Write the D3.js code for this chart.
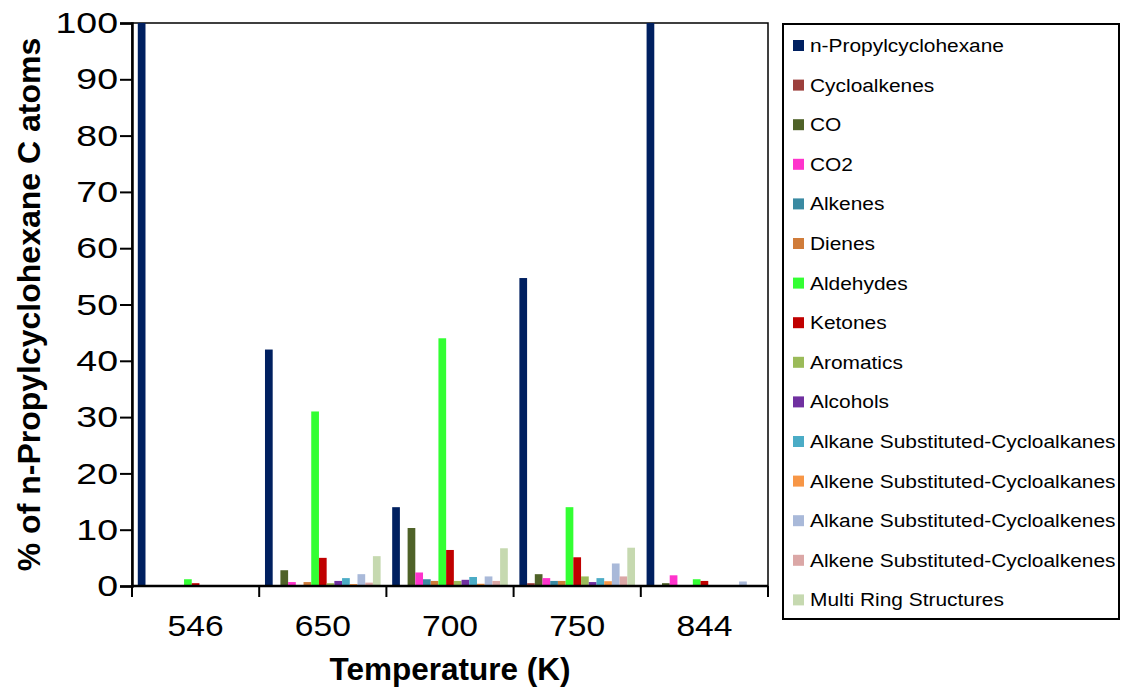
<!DOCTYPE html>
<html>
<head>
<meta charset="utf-8">
<script src="https://cdn.jsdelivr.net/npm/d3@7"></script>
<style>
  body { margin: 0; background: #fff; }
  svg { font-family: "Liberation Sans", Arial, sans-serif; }
</style>
</head>
<body>
<div id="chart"></div>
<script>
// temperatures (x categories)
var temps = ["546", "650", "700", "750", "844"];

var seriesNames = [
    "n-Propylcyclohexane", "Cycloalkenes", "CO", "CO2", "Alkenes", "Dienes",
    "Aldehydes", "Ketones", "Aromatics", "Alcohols",
    "Alkane Substituted-Cycloalkanes", "Alkene Substituted-Cycloalkanes",
    "Alkane Substituted-Cycloalkenes", "Alkene Substituted-Cycloalkenes",
    "Multi Ring Structures"
];

var seriesColors = [
    "#002060", "#9c3f3c", "#4f6228", "#ff33cc", "#3a8aa2", "#d07c3a",
    "#33ff33", "#c00000", "#9bbb59", "#7030a0",
    "#4bacc6", "#f79646", "#a9b9d9", "#dba7a6", "#c6d9b0"
];

// values per series, one per temperature
var nPropylcyclohexane = [100, 42, 14, 54.7, 100];
var cycloalkenes = [0, 0.1, 0.1, 0.5, 0];
var co = [0, 2.8, 10.3, 2.1, 0.5];
var co2 = [0, 0.7, 2.4, 1.4, 1.9];
var alkenes = [0, 0.1, 1.2, 0.9, 0];
var dienes = [0, 0.7, 0.9, 0.9, 0];
var aldehydes = [1.2, 31, 44, 14, 1.2];
var ketones = [0.5, 5.0, 6.4, 5.1, 0.9];
var aromatics = [0, 0.5, 0.9, 1.7, 0];
var alcohols = [0, 0.9, 1.1, 0.7, 0];
var alkSubCycloalkanes = [0, 1.4, 1.6, 1.4, 0];
var alkeSubCycloalkanes = [0, 0.35, 0.4, 0.85, 0];
var alkSubCycloalkenes = [0, 2.1, 1.7, 4.0, 0.8];
var alkeSubCycloalkenes = [0, 0.6, 0.9, 1.7, 0];
var multiRing = [0, 5.3, 6.7, 6.8, 0];

var yTicks = [0, 10, 20, 30, 40, 50, 60, 70, 80, 90, 100];

var seriesValues = [
    nPropylcyclohexane, cycloalkenes, co, co2, alkenes, dienes,
    aldehydes, ketones, aromatics, alcohols,
    alkSubCycloalkanes, alkeSubCycloalkanes, alkSubCycloalkenes,
    alkeSubCycloalkenes, multiRing
];

var W = 1122, H = 687;
var margin = { left: 132, top: 23, right: 354, bottom: 101 };
var width = W - margin.left - margin.right;
var height = H - margin.top - margin.bottom;

var svg = d3.select("#chart").append("svg")
    .attr("width", W)
    .attr("height", H);

var g = svg.append("g")
    .attr("transform", "translate(" + margin.left + "," + margin.top + ")");

var x = d3.scaleBand().domain(temps).range([0, width]).paddingInner(0).paddingOuter(0);

// gap of 150% of a bar width, split on both sides
var barW = x.bandwidth() / (seriesNames.length + 1.5);
var xs = d3.scaleBand().domain(d3.range(seriesNames.length))
    .range([barW * 0.75, x.bandwidth() - barW * 0.75]).padding(0);

var y = d3.scaleLinear().domain([0, 100]).range([height, 0]);

// plot area frame (thin)
g.append("rect")
    .attr("x", 0).attr("y", 0)
    .attr("width", width).attr("height", height)
    .attr("fill", "none")
    .attr("stroke", "#000")
    .attr("stroke-width", 1.5);

// bars
var flat = [];
temps.forEach(function (t, i) {
    seriesValues.forEach(function (vals, s) {
        flat.push({ temp: t, s: s, v: vals[i] });
    });
});

g.selectAll(".bar")
    .data(flat)
    .enter().append("rect")
    .attr("class", "bar")
    .attr("x", function (d) { return x(d.temp) + xs(d.s); })
    .attr("width", xs.bandwidth())
    .attr("y", function (d) { return y(d.v); })
    .attr("height", function (d) { return height - y(d.v); })
    .attr("fill", function (d) { return seriesColors[d.s]; });

// y axis (labels are a bit wide in the original, so stretch them)
var yStretch = 1.25;
var yAxis = d3.axisLeft(y).tickValues(yTicks).tickSize(12);
var yg = g.append("g").call(yAxis);
yg.attr("font-size", null).attr("font-family", null);
yg.select(".domain").attr("stroke-width", 2.5);
yg.selectAll(".tick line").attr("stroke-width", 2);
yg.selectAll(".tick text")
    .attr("x", -14 / yStretch)
    .attr("transform", "scale(" + yStretch + ",1)")
    .attr("font-size", 30)
    .attr("fill", "#000");

// x axis: ticks on category boundaries
var xg = g.append("g").attr("transform", "translate(0," + height + ")");
xg.append("line")
    .attr("x1", 0).attr("x2", width)
    .attr("stroke", "#000").attr("stroke-width", 2.5);
xg.selectAll(".xtick")
    .data(temps.concat(["end"]))
    .enter().append("line")
    .attr("class", "xtick")
    .attr("x1", function (d, i) { return i < temps.length ? x(d) : width; })
    .attr("x2", function (d, i) { return i < temps.length ? x(d) : width; })
    .attr("y1", 0).attr("y2", 11)
    .attr("stroke", "#000").attr("stroke-width", 2);
xg.selectAll(".xlabel")
    .data(temps)
    .enter().append("text")
    .attr("class", "xlabel")
    .attr("transform", function (d) {
        return "translate(" + (x(d) + x.bandwidth() / 2) + ",50) scale(1.12,1)";
    })
    .attr("text-anchor", "middle")
    .attr("font-size", 30)
    .text(function (d) { return d; });

// axis titles
svg.append("text")
    .attr("x", margin.left + width / 2)
    .attr("y", 680)
    .attr("text-anchor", "middle")
    .attr("font-size", 31.5)
    .attr("font-weight", "bold")
    .text("Temperature (K)");

svg.append("text")
    .attr("transform", "translate(40," + (margin.top + height / 2) + ") rotate(-90)")
    .attr("text-anchor", "middle")
    .attr("font-size", 32)
    .attr("font-weight", "bold")
    .text("% of n-Propylcyclohexane C atoms");

// legend
var legend = svg.append("g").attr("transform", "translate(783,24)");
legend.append("rect")
    .attr("x", 0).attr("y", 0)
    .attr("width", 336).attr("height", 595)
    .attr("fill", "#fff")
    .attr("stroke", "#000")
    .attr("stroke-width", 2);

var items = legend.selectAll(".item")
    .data(seriesNames)
    .enter().append("g")
    .attr("class", "item")
    .attr("transform", function (d, i) { return "translate(0," + (21 + i * 39.6) + ")"; });

items.append("rect")
    .attr("x", 10).attr("y", -5)
    .attr("width", 11).attr("height", 11)
    .attr("fill", function (d, i) { return seriesColors[i]; });

items.append("text")
    .attr("transform", "translate(27,7) scale(1.1,1)")
    .attr("font-size", 19)
    .text(function (d) { return d; });
</script>
</body>
</html>
